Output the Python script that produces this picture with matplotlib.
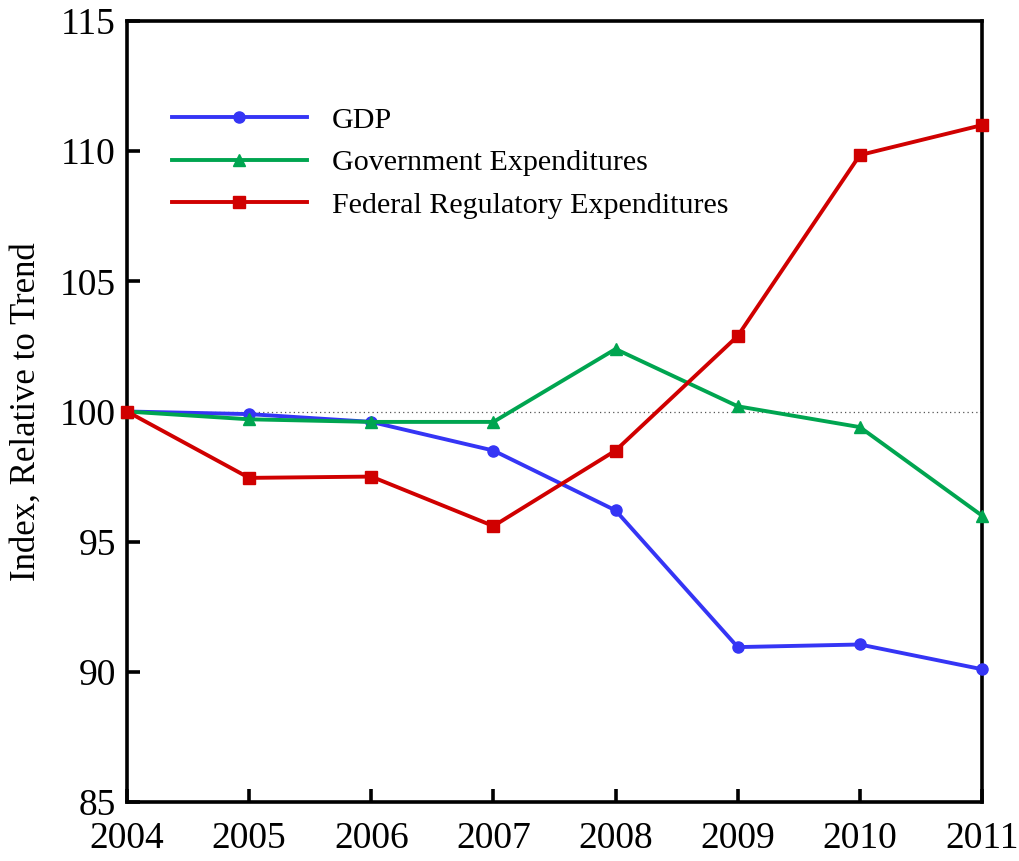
import matplotlib
matplotlib.use("Agg")
import matplotlib.pyplot as plt

# ── Data ──────────────────────────────────────────────────────────────────────
years = [2004, 2005, 2006, 2007, 2008, 2009, 2010, 2011]
gdp = [100.0, 99.9, 99.6, 98.5, 96.2, 90.95, 91.05, 90.1]
gov_exp = [100.0, 99.7, 99.6, 99.6, 102.4, 100.2, 99.4, 96.0]
fed_reg_exp = [100.0, 97.45, 97.5, 95.6, 98.5, 102.9, 109.85, 111.0]
y_ticks = [85, 90, 95, 100, 105, 110, 115]

plt.rcParams["font.family"] = ["Liberation Serif", "DejaVu Serif"]

fig = plt.figure(figsize=(10.19, 8.61), dpi=100)
ax = fig.add_axes([127 / 1019, 1 - 802 / 861, (982 - 127) / 1019, (802 - 21) / 861])

# reference line at 100
ax.axhline(100, color="#555555", linewidth=0.9, linestyle=(0, (1, 2.5)), zorder=1)

ax.plot(years, gdp, color="#3535F5", linewidth=2.8, marker="o", markersize=8,
        label="GDP", clip_on=False, zorder=3)
ax.plot(years, gov_exp, color="#00A550", linewidth=2.8, marker="^", markersize=9,
        label="Government Expenditures", clip_on=False, zorder=4)
ax.plot(years, fed_reg_exp, color="#D00000", linewidth=2.8, marker="s", markersize=8,
        label="Federal Regulatory Expenditures", clip_on=False, zorder=5)

ax.set_xlim(2004, 2011)
ax.set_ylim(85, 115)
ax.set_xticks(years)
ax.set_yticks(y_ticks)
ax.tick_params(direction="in", length=9.5, width=2.6, labelsize=27,
               top=False, right=False)
ax.tick_params(axis="y", pad=8)
ax.tick_params(axis="x", pad=14)
for side in ax.spines.values():
    side.set_linewidth(2.6)
ax.set_ylabel("Index, Relative to Trend", fontsize=25, labelpad=12)

ax.legend(loc="upper left", bbox_to_anchor=(0.021, 0.925), frameon=False,
          fontsize=21.6, handlelength=4.5, handletextpad=0.83, labelspacing=0.52)

fig.savefig("out.png", dpi=100)
